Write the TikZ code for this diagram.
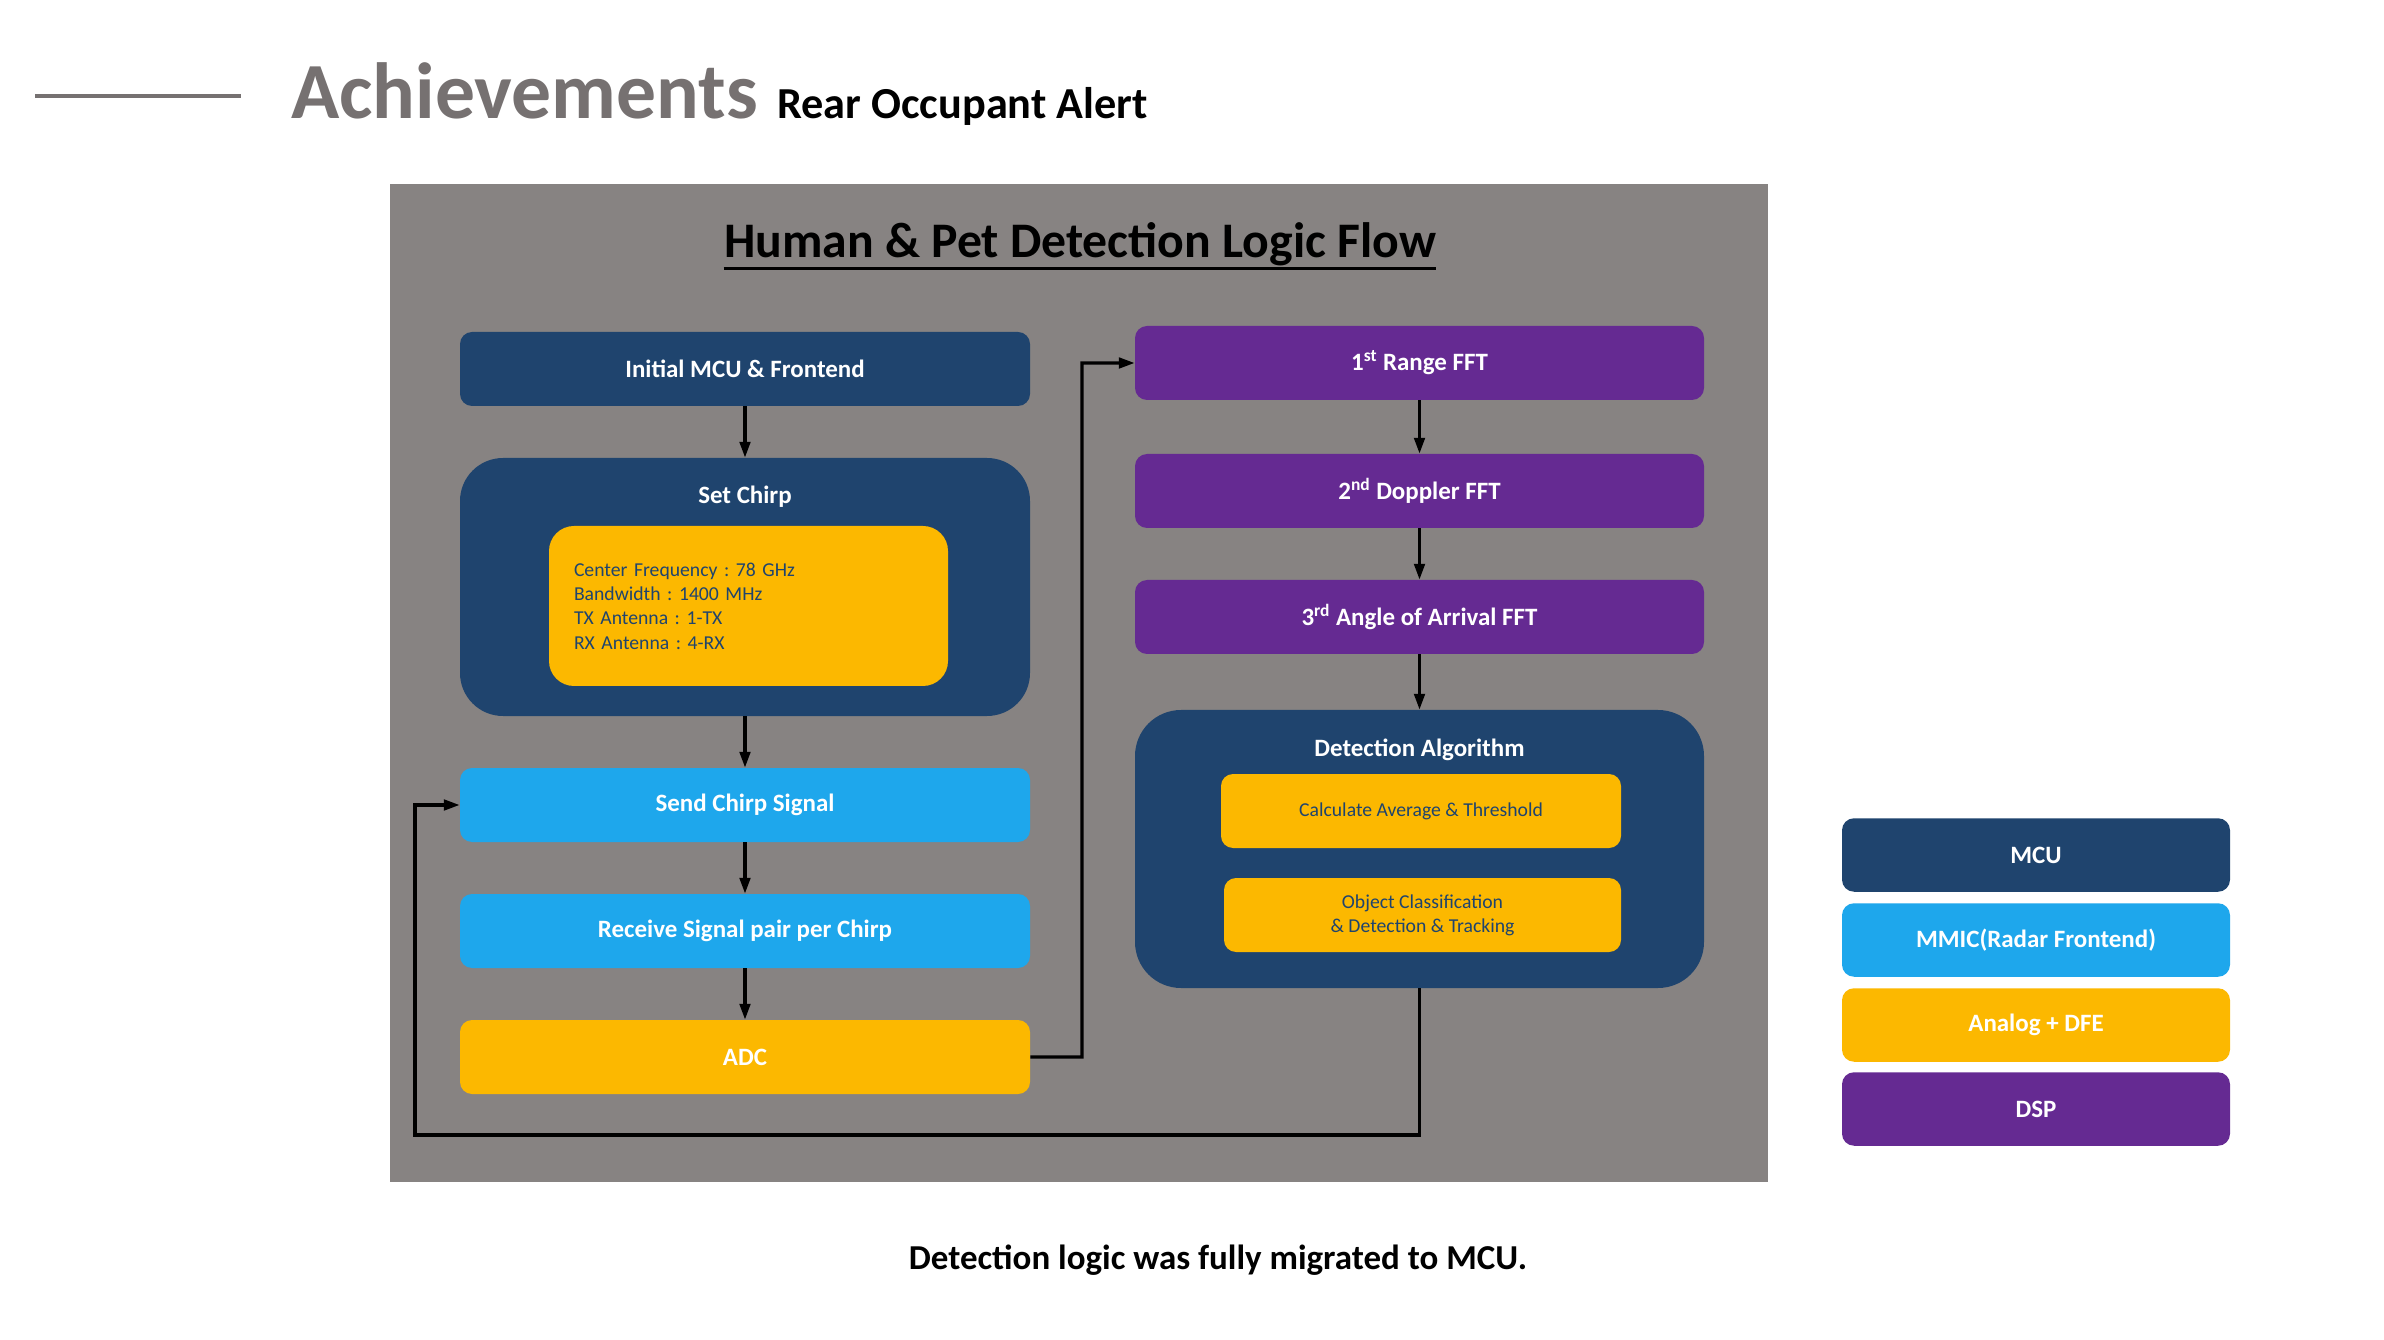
\documentclass[tikz,border=0pt]{standalone}
\usepackage{fontspec}
\setmainfont{Carlito}
\usepackage{xcolor}
\usetikzlibrary{arrows.meta,positioning}
\frenchspacing

\definecolor{mcublue}{RGB}{31,68,110}
\definecolor{rfblue}{RGB}{30,167,236}
\definecolor{dfeyellow}{RGB}{252,184,0}
\definecolor{dsppurple}{RGB}{101,42,146}
\definecolor{panelgray}{RGB}{135,131,130}
\definecolor{headgray}{RGB}{118,113,113}

\begin{document}
\begin{tikzpicture}[
        flowbox/.style = {rectangle, rounded corners=0.24cm, minimum width=11.4cm,
            minimum height=1.48cm, inner sep=0pt, text=white,
            font=\fontsize{14.2}{17}\selectfont\bfseries},
        mcubox/.style = {flowbox, fill=mcublue},
        rfbox/.style = {flowbox, fill=rfblue},
        dfebox/.style = {flowbox, fill=dfeyellow},
        dspbox/.style = {flowbox, fill=dsppurple},
        subbox/.style = {rectangle, fill=dfeyellow, text=mcublue, inner ysep=0pt,
            font=\fontsize{11.2}{13.8}\selectfont},
        keybox/.style = {flowbox, minimum width=7.76cm, minimum height=1.47cm},
        caption/.style = {inner sep=0pt, text=white, font=\fontsize{14.2}{17}\selectfont\bfseries},
        flow/.style = {-{Triangle[length=9pt,width=6pt]}, line width=1.8pt, black}]

        % canvas
        \useasboundingbox (0,0) rectangle (47.68,-26.8);
        \fill[white] (0,0) rectangle (47.68,-26.8);
        \fill[panelgray] (7.8,-3.68) rectangle (35.36,-23.64);

        % HEADER
        \draw[headgray, line width=2pt] (0.7,-1.92) -- (4.82,-1.92);
        \node[anchor=base west, inner sep=0pt, text=headgray, font=\fontsize{45.3}{50}\selectfont\bfseries] (achv) at (5.82,-2.38) {Achievements};
        \node[anchor=base west, inner sep=0pt, font=\fontsize{25.2}{29}\selectfont\bfseries] (achv_sub) at (15.54,-2.38) {Rear Occupant Alert};
        \node[anchor=base, inner sep=0pt, font=\fontsize{28.3}{32}\selectfont\bfseries] (flow_title) at (21.6,-5.16) {Human \& Pet Detection Logic Flow};
        \draw[line width=1.5pt] ([yshift=-1pt]flow_title.south west) -- ([yshift=-1pt]flow_title.south east);

        % NODES
        % left column
        \node[mcubox] (init) at (14.9,-7.38) {Initial MCU \& Frontend};
        \node[mcubox, below of = init, node distance = 4.36cm, minimum height=5.16cm, rounded corners=0.86cm] (setchirp) {};
        \node[caption] (setchirp_cap) at ([yshift=-0.78cm]setchirp.north) {Set Chirp};
        \node[subbox, text width=6.98cm, inner xsep=0.5cm, minimum height=3.2cm, rounded corners=0.5cm, align=left] (chirp_cfg) at (14.97,-12.12)
            {Center Frequency : 78 GHz\\Bandwidth : 1400 MHz\\TX Antenna : 1-TX\\RX Antenna : 4-RX};
        \node[rfbox, below of = setchirp, node distance = 4.36cm] (send) {Send Chirp Signal};
        \node[rfbox, below of = send, node distance = 2.52cm] (recv) {Receive Signal pair per Chirp};
        \node[dfebox, below of = recv, node distance = 2.52cm] (adc) {ADC};

        % right column
        \node[dspbox, minimum width=11.38cm] (range) at (28.39,-7.26) {1\textsuperscript{st} Range FFT};
        \node[dspbox, minimum width=11.38cm, below of = range, node distance = 2.56cm] (doppler) {2\textsuperscript{nd} Doppler FFT};
        \node[dspbox, minimum width=11.38cm, below of = doppler, node distance = 2.52cm] (angle) {3\textsuperscript{rd} Angle of Arrival FFT};
        \node[mcubox, minimum width=11.38cm, below of = angle, node distance = 4.64cm, minimum height=5.56cm, rounded corners=0.92cm] (detect) {};
        \node[caption] (detect_cap) at ([yshift=-0.8cm]detect.north) {Detection Algorithm};
        \node[subbox, minimum width=8cm, minimum height=1.48cm, rounded corners=0.24cm, align=center] (calc) at (28.42,-16.22) {Calculate Average \& Threshold};
        \node[subbox, minimum width=7.94cm, minimum height=1.48cm, rounded corners=0.24cm, align=center] (classify) at (28.45,-18.3) {Object Classification\\\& Detection \& Tracking};

        % legend
        \node[keybox, fill=mcublue] (key_mcu) at (40.72,-17.1) {MCU};
        \node[keybox, fill=rfblue, below of = key_mcu, node distance = 1.7cm] (key_rf) {MMIC(Radar Frontend)};
        \node[keybox, fill=dfeyellow, below of = key_rf, node distance = 1.7cm] (key_dfe) {Analog + DFE};
        \node[keybox, fill=dsppurple, below of = key_dfe, node distance = 1.68cm] (key_dsp) {DSP};

        \node[anchor=base, inner sep=0pt, font=\fontsize{19.9}{24}\selectfont\bfseries] (note) at (24.36,-25.38) {Detection logic was fully migrated to MCU.};

        % bends
        \coordinate (adc_bend) at (21.64,-21.14);
        \coordinate (loop_low) at (28.39,-22.7);
        \coordinate (loop_left) at (8.3,-22.7);

        % ARROWS
        \draw[flow] (init) -- (setchirp);
        \draw[flow] (setchirp) -- (send);
        \draw[flow] (send) -- (recv);
        \draw[flow] (recv) -- (adc);
        \draw[flow] (adc.east) -- (adc_bend) |- (range.west);
        \draw[flow] (range) -- (doppler);
        \draw[flow] (doppler) -- (angle);
        \draw[flow] (angle) -- (detect);
        \draw[flow] (detect.south) -- (loop_low) -- (loop_left) |- (send.west);
\end{tikzpicture}
\end{document}
